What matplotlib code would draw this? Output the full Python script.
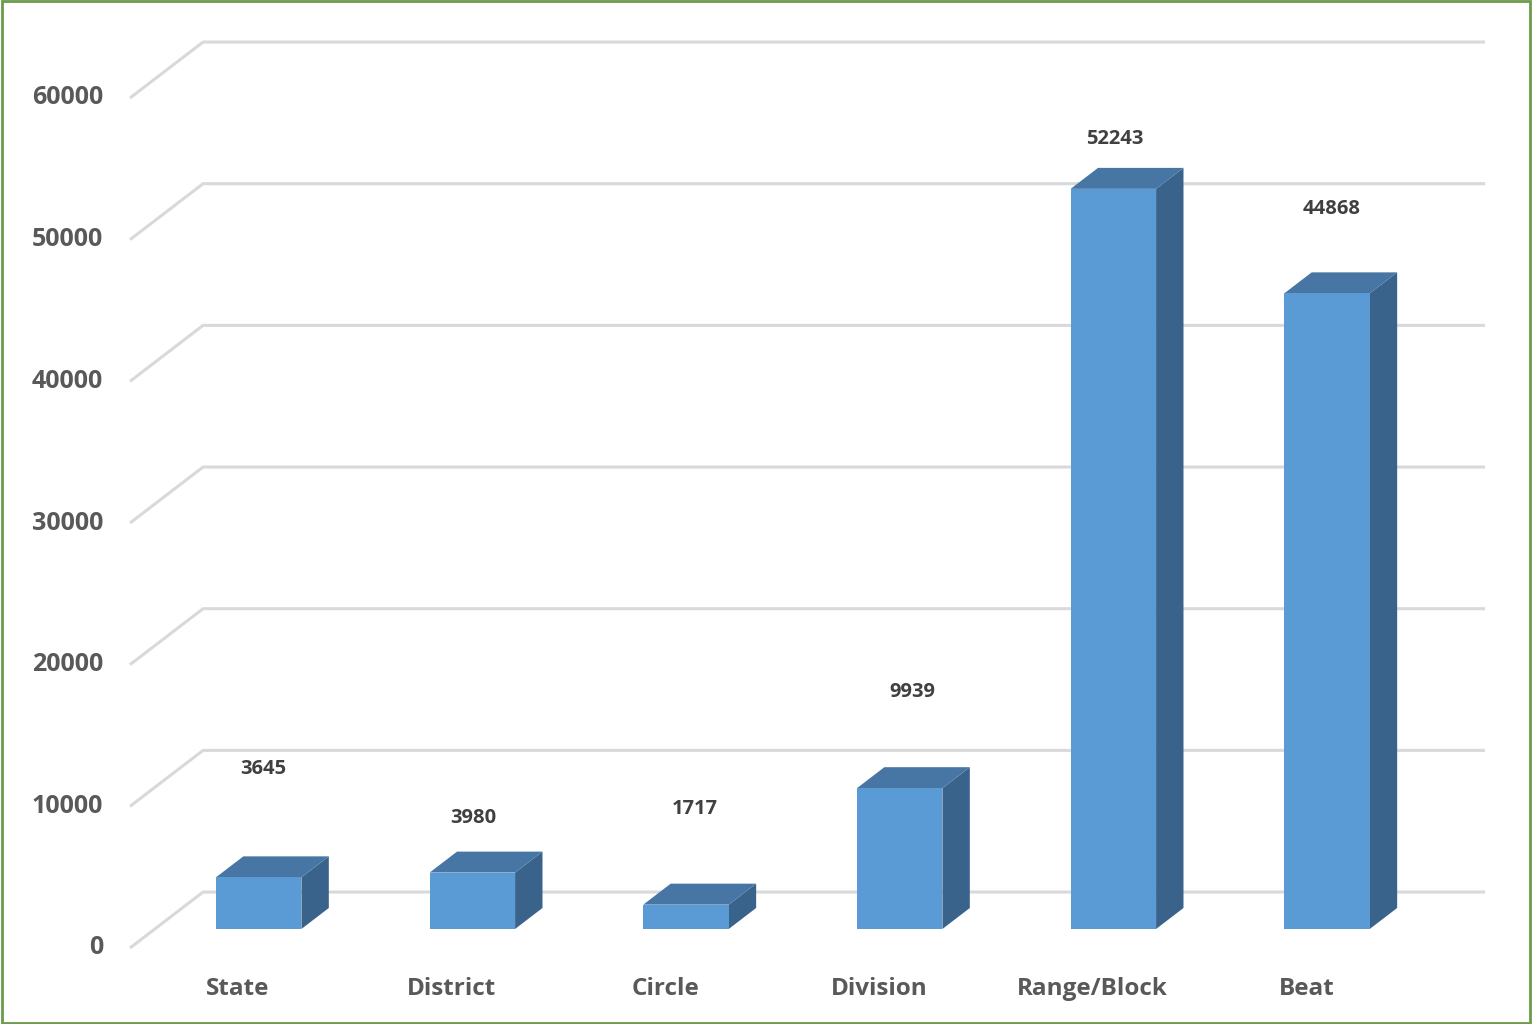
import numpy as np
import matplotlib.pyplot as plt
from matplotlib.patches import Polygon, Rectangle

# data
categories = ['State', 'District', 'Circle', 'Division', 'Range/Block', 'Beat']
values = [3645, 3980, 1717, 9939, 52243, 44868]
yticks = [0, 10000, 20000, 30000, 40000, 50000, 60000]

# value label nudges (points) to sit like the original
label_dx = [3, 1, 6, 9, 1, 3]
label_dy = [78, 39, 69, 69, 36, 61]

# oblique "3D" look
DX, DY = 0.342, 3950      # full depth of the floor in data units
f0, fd = 0.34, 0.375      # bar front position and bar depth (fraction of DX/DY)
w = 0.40                  # bar width
sh = -0.014               # small sideways nudge of the bars

c_front = '#5B9BD5'
c_top = '#4776A5'
c_side = '#3A638C'
c_grid = '#D9D9D9'
c_text = '#595959'

plt.rcParams['font.family'] = ['Open Sans', 'DejaVu Sans']

fig = plt.figure(figsize=(15.32, 10.24), dpi=100)
ax = fig.add_axes([130 / 1532, 76 / 1024, 1282 / 1532, 850 / 1024])
ax.set_xlim(-0.5, 5.5)
ax.set_ylim(0, 60000)
ax.axis('off')

# gridlines: side diagonal + back wall
for t in yticks:
    ax.plot([-0.5, -0.5 + DX, 5.5 + DX], [t, t + DY, t + DY],
            color=c_grid, lw=2.2, zorder=1, clip_on=False, solid_capstyle='butt')
    ax.text(-0.625, t, str(t), ha='right', va='center', fontsize=18,
            fontweight='bold', color=c_text)

# bars
for i, v in enumerate(values):
    x0 = i + sh + f0 * DX - w / 2
    y0 = f0 * DY
    ddx, ddy = fd * DX, fd * DY
    front = Rectangle((x0, y0), w, v, facecolor=c_front, edgecolor='none', zorder=3, clip_on=False)
    top = Polygon([(x0, y0 + v), (x0 + w, y0 + v), (x0 + w + ddx, y0 + v + ddy), (x0 + ddx, y0 + v + ddy)],
                  closed=True, facecolor=c_top, edgecolor='none', zorder=3, clip_on=False)
    side = Polygon([(x0 + w, y0), (x0 + w + ddx, y0 + ddy), (x0 + w + ddx, y0 + v + ddy), (x0 + w, y0 + v)],
                   closed=True, facecolor=c_side, edgecolor='none', zorder=3, clip_on=False)
    ax.add_patch(side)
    ax.add_patch(top)
    ax.add_patch(front)
    ax.annotate(str(v), (i + sh + f0 * DX, y0 + v), xytext=(label_dx[i], label_dy[i]),
                textcoords='offset points', ha='center', va='center',
                fontsize=14.5, fontweight='bold', color='#404040')
    ax.text(i + sh + 0.02, -2880, categories[i], ha='center', va='center', fontsize=17.5,
            fontweight='bold', color=c_text)

# green frame round the chart
fig.patches.append(Rectangle((0.001, 0.001), 0.998, 0.998, transform=fig.transFigure,
                             fill=False, edgecolor='#6B9B4B', lw=2))

fig.savefig('out.png', dpi=100)
